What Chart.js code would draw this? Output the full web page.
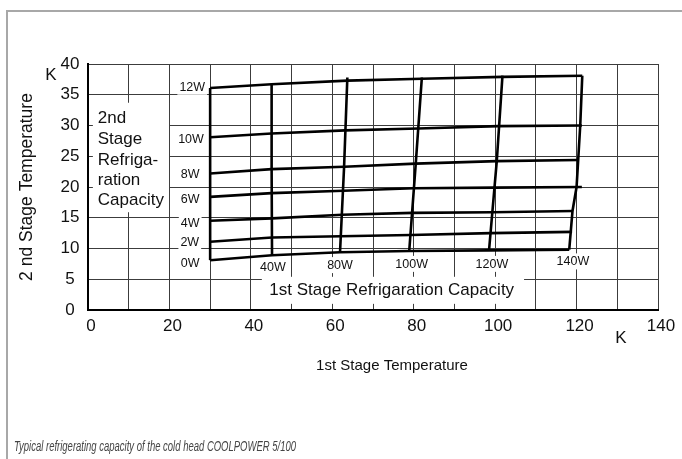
<!DOCTYPE html>
<html><head><meta charset="utf-8">
<script src="https://cdn.jsdelivr.net/npm/chart.js@4.4.1/dist/chart.umd.min.js"></script>
<style>
html,body{margin:0;padding:0;background:#fff;}
#wrap{position:relative;width:682px;height:459px;overflow:hidden;background:#fff;}
#frame{position:absolute;left:6px;top:10px;width:700px;height:500px;border-top:2px solid #a8a8a8;border-left:2px solid #a8a8a8;}
canvas{position:absolute;left:0;top:0;}
</style></head><body>
<div id="wrap"><div id="frame"></div><canvas id="c" width="682" height="459"></canvas></div>
<script>
// ---------- data ----------
const xTickLabels = [0, 20, 40, 60, 80, 100, 120, 140];
const xGridValues = [0, 10, 20, 30, 40, 50, 60, 70, 80, 90, 100, 110, 120, 130, 140];
const yTickLabels = [0, 5, 10, 15, 20, 25, 30, 35, 40];

const secondStageLoads = ['0W', '2W', '4W', '6W', '8W', '10W', '12W'];
const firstStageLoads = ['0W', '40W', '80W', '100W', '120W', '140W'];

// constant 2nd-stage load curves (x: 1st stage temperature K, y: 2nd stage temperature K)
const load0W_T1  = [30, 45.2, 61.9, 78.9, 98.5, 118.2];
const load0W_T2  = [8.1, 8.9, 9.4, 9.6, 9.7, 9.8];
const load2W_T1  = [30, 45.2, 62.1, 79.3, 98.9, 118.9];
const load2W_T2  = [11.1, 11.8, 12.0, 12.2, 12.5, 12.7];
const load4W_T1  = [30, 45.2, 62.4, 79.7, 99.3, 119.1];
const load4W_T2  = [14.5, 14.9, 15.5, 15.8, 15.9, 16.1];
const load6W_T1  = [30, 45.1, 62.7, 80.0, 99.7, 121.3];
const load6W_T2  = [18.4, 19.0, 19.4, 19.8, 19.9, 20.0];
const load8W_T1  = [30, 45.1, 62.9, 80.5, 100.4, 120.4];
const load8W_T2  = [22.2, 22.9, 23.3, 23.8, 24.2, 24.4];
const load10W_T1 = [30, 45.1, 63.2, 81.1, 100.8, 121.3];
const load10W_T2 = [28.1, 28.7, 29.2, 29.5, 29.9, 30.0];
const load12W_T1 = [30, 45.1, 63.7, 82.0, 101.8, 121.4];
const load12W_T2 = [36.1, 36.7, 37.3, 37.6, 37.9, 38.1];

// constant 1st-stage load curves
const cap0W_T1   = [30, 30];
const cap0W_T2   = [8.1, 36.1];
const cap40W_T1  = [45.2, 45.1, 45.1];
const cap40W_T2  = [8.9, 22.9, 36.8];
const cap80W_T1  = [61.9, 62.9, 63.7];
const cap80W_T2  = [9.4, 23.3, 37.8];
const cap100W_T1 = [78.9, 80.5, 82.0];
const cap100W_T2 = [9.6, 23.8, 37.8];
const cap120W_T1 = [98.5, 100.4, 101.8];
const cap120W_T2 = [9.7, 24.2, 38.1];
const cap140W_T1 = [118.2, 119.0, 120.0, 120.9, 121.4];
const cap140W_T2 = [9.8, 16.1, 20.0, 30.0, 38.1];

// ---------- build ----------
const FONT = "'Liberation Sans', Arial, Helvetica, sans-serif";
const zip = (xs, ys) => xs.map((x, i) => ({x: x, y: ys[i]}));
const curves = [
  [load0W_T1, load0W_T2], [load2W_T1, load2W_T2], [load4W_T1, load4W_T2],
  [load6W_T1, load6W_T2], [load8W_T1, load8W_T2], [load10W_T1, load10W_T2],
  [load12W_T1, load12W_T2],
  [cap0W_T1, cap0W_T2], [cap40W_T1, cap40W_T2], [cap80W_T1, cap80W_T2],
  [cap100W_T1, cap100W_T2], [cap120W_T1, cap120W_T2], [cap140W_T1, cap140W_T2]
];
const curveNames = secondStageLoads.map(s => '2nd ' + s).concat(firstStageLoads.map(s => '1st ' + s));
const datasets = curves.map((c, i) => ({
  label: curveNames[i],
  data: zip(c[0], c[1]),
  showLine: true,
  borderColor: '#000',
  borderWidth: 2.6,
  pointRadius: 0,
  tension: 0,
  fill: false
}));

// annotation placement (data coordinates)
const leftLabelPos = [
  {x: 25.1, y: 7.6}, {x: 25.0, y: 11.1}, {x: 25.1, y: 14.1}, {x: 25.1, y: 18.0},
  {x: 25.1, y: 22.1}, {x: 25.3, y: 27.8}, {x: 25.6, y: 36.3}
];
const bottomLabelPos = [
  null, {x: 45.4, y: 7.0}, {x: 61.9, y: 7.3}, {x: 79.5, y: 7.5}, {x: 99.2, y: 7.5}, {x: 119.1, y: 7.9}
];

const annot = {
  id: 'annot',
  beforeDatasetsDraw(chart) {
    const {ctx, scales: {x, y}} = chart;
    const px = v => x.getPixelForValue(v), py = v => y.getPixelForValue(v);
    ctx.save();
    ctx.fillStyle = '#fff';
    ctx.fillRect(px(1.2), py(33.7), px(19.9) - px(1.2), py(15.9) - py(33.7));
    ctx.fillRect(px(42.7), py(5.4), px(107.1) - px(42.7), py(1.0) - py(5.4));
    ctx.textBaseline = 'middle';
    ctx.font = '12.5px ' + FONT;
    ctx.textAlign = 'center';
    const lab = (t, p) => {
      const w = ctx.measureText(t).width + 4;
      ctx.fillStyle = '#fff';
      ctx.fillRect(px(p.x) - w / 2, py(p.y) - 8, w, 16);
      ctx.fillStyle = '#111';
      ctx.fillText(t, px(p.x), py(p.y) + 0.5);
    };
    secondStageLoads.forEach((t, i) => lab(t, leftLabelPos[i]));
    firstStageLoads.forEach((t, i) => { if (bottomLabelPos[i]) lab(t, bottomLabelPos[i]); });
    ctx.fillStyle = '#111';
    ctx.font = '17px ' + FONT;
    ctx.textAlign = 'left';
    const block = ['2nd', 'Stage', 'Refriga-', 'ration', 'Capacity'];
    const blockY = [31.2, 27.8, 24.4, 21.1, 17.9];
    block.forEach((t, i) => ctx.fillText(t, px(2.4), py(blockY[i])));
    ctx.textAlign = 'center';
    ctx.fillText('1st Stage Refrigaration Capacity', px(74.6), py(3.25));
    ctx.restore();
  },
  afterDraw(chart) {
    const {ctx} = chart;
    ctx.save();
    ctx.fillStyle = '#111';
    ctx.font = '17px ' + FONT;
    ctx.textBaseline = 'middle';
    ctx.textAlign = 'center';
    ctx.fillText('K', 51, 75);
    ctx.fillText('K', 621, 338);
    ctx.font = '15px ' + FONT;
    ctx.fillText('1st Stage Temperature', 392, 366);
    const cap = 'Typical refrigerating capacity of the cold head COOLPOWER 5/100';
    ctx.font = 'italic 15px ' + FONT;
    ctx.fillStyle = '#444';
    ctx.textAlign = 'left';
    const w = ctx.measureText(cap).width;
    ctx.translate(14, 447);
    ctx.scale(282 / w, 1);
    ctx.fillText(cap, 0, 0);
    ctx.restore();
  }
};

new Chart(document.getElementById('c'), {
  type: 'scatter',
  data: {datasets: datasets},
  plugins: [annot],
  options: {
    responsive: false,
    animation: false,
    layout: {padding: {left: 0, right: 24, top: 64, bottom: 0}},
    plugins: {legend: {display: false}, tooltip: {enabled: false}},
    scales: {
      x: {
        type: 'linear', min: 0, max: 140,
        afterBuildTicks: s => { s.ticks = xGridValues.map(v => ({value: v})); },
        afterFit: s => { s.height = 149; },
        ticks: {
          autoSkip: false, maxRotation: 0, padding: 6, labelOffset: 3, color: '#111',
          font: {size: 17, family: FONT},
          callback: v => xTickLabels.includes(v) ? String(v) : ''
        },
        grid: {color: '#3c3c3c', lineWidth: 1, drawTicks: false},
        border: {color: '#000', width: 2}
      },
      y: {
        type: 'linear', min: 0, max: 40,
        afterBuildTicks: s => { s.ticks = yTickLabels.map(v => ({value: v})); },
        afterFit: s => { s.width = 88; },
        ticks: {color: '#111', padding: 8.5, crossAlign: 'center', font: {size: 17, family: FONT}},
        grid: {color: '#3c3c3c', lineWidth: 1, drawTicks: false},
        border: {color: '#000', width: 2},
        title: {display: true, text: '2 nd Stage Temperature', color: '#111',
                font: {size: 17.5, family: FONT}, padding: {top: 17, bottom: 0}}
      }
    }
  }
});
</script>
</body></html>
